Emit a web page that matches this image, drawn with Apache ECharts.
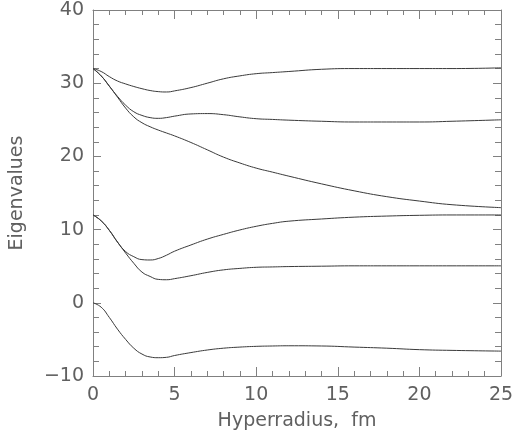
<!DOCTYPE html>
<html>
<head>
<meta charset="utf-8">
<script src="https://cdn.jsdelivr.net/npm/echarts@6/dist/echarts.min.js"></script>
<style>html,body{margin:0;padding:0;background:#fff;}#c{width:514px;height:438px;}</style>
</head>
<body>
<div id="c"></div>
<script>
const xs   = [0,0.5,1,1.5,2,2.5,3,3.5,4,4.5,5,6,7,8,9,10,11,12,14,16,18,20,22,25];
const eig1 = [32,31.6,30.9,30.3,29.9,29.55,29.25,29.0,28.85,28.8,28.95,29.4,30.0,30.6,31.0,31.3,31.45,31.6,31.9,32.0,32.0,32.0,32.0,32.1];
const eig2 = [32,31.0,29.6,28.2,27.0,26.1,25.6,25.3,25.2,25.3,25.5,25.8,25.85,25.7,25.4,25.15,25.05,24.95,24.8,24.7,24.7,24.7,24.8,25.0];
const eig3 = [32,31.0,29.6,28.1,26.6,25.4,24.6,24.05,23.6,23.2,22.8,21.9,20.9,19.9,19.1,18.4,17.85,17.3,16.25,15.3,14.5,13.9,13.4,13.0];
const eig4 = [12,11.2,9.9,8.3,7.0,6.3,5.9,5.85,6.05,6.5,7.05,7.9,8.7,9.35,9.95,10.45,10.85,11.15,11.45,11.7,11.85,11.95,12.0,12.0];
const eig5 = [12,11.2,9.9,8.3,6.8,5.4,4.2,3.6,3.2,3.15,3.3,3.7,4.15,4.5,4.7,4.85,4.9,4.95,5.0,5.05,5.05,5.05,5.05,5.05];
const eig6 = [0,-0.6,-2.0,-3.6,-5.0,-6.2,-7.0,-7.4,-7.5,-7.45,-7.2,-6.8,-6.45,-6.2,-6.05,-5.95,-5.9,-5.87,-5.9,-6.05,-6.2,-6.4,-6.5,-6.6];
const curves = [eig1, eig2, eig3, eig4, eig5, eig6];
const xMin = 0, xMax = 25, xStep = 5;
const yMin = -10, yMax = 40, yStep = 10;
const xTitle = 'Hyperradius,  fm';
const yTitle = 'Eigenvalues';

const textColor = '#606060';
const axisColor = '#808080';
const font = 'DejaVu Sans';
const fs = 19;

const chart = echarts.init(document.getElementById('c'), null, {renderer: 'canvas'});

function xAx(pos, show) {
  return {
    type: 'value', position: pos, min: xMin, max: xMax, interval: xStep,
    name: show ? xTitle : '', nameLocation: 'middle', nameGap: 36,
    nameTextStyle: {color: textColor, fontFamily: font, fontSize: fs},
    axisLine: {show: true, onZero: false, lineStyle: {color: axisColor, width: 1}},
    axisTick: {show: true, inside: true, length: 9, lineStyle: {color: axisColor}},
    minorTick: {show: true, splitNumber: 5, length: 5, lineStyle: {color: axisColor}},
    axisLabel: {show: show, margin: 10, color: textColor, fontFamily: font, fontSize: fs},
    splitLine: {show: false}
  };
}
function yAx(pos, show) {
  return {
    type: 'value', position: pos, min: yMin, max: yMax, interval: yStep,
    name: show ? yTitle : '', nameLocation: 'middle', nameGap: 66, nameRotate: 90,
    nameTextStyle: {color: textColor, fontFamily: font, fontSize: fs},
    axisLine: {show: true, onZero: false, lineStyle: {color: axisColor, width: 1}},
    axisTick: {show: true, inside: true, length: 8, lineStyle: {color: axisColor}},
    minorTick: {show: true, splitNumber: 5, length: 6, lineStyle: {color: axisColor}},
    axisLabel: {show: show, margin: 9, color: textColor, fontFamily: font, fontSize: fs,
      formatter: v => String(v).replace('-', '\u2212')},
    splitLine: {show: false}
  };
}

chart.setOption({
  animation: false,
  backgroundColor: '#fff',
  grid: {left: 93, right: 13, top: 10, bottom: 62, containLabel: false, outerBoundsMode: 'none'},
  xAxis: [xAx('bottom', true), xAx('top', false)],
  yAxis: [yAx('left', true), yAx('right', false)],
  series: curves.map(c => ({
    type: 'line', xAxisIndex: 0, yAxisIndex: 0,
    data: xs.map((x, i) => [x, c[i]]),
    showSymbol: false, smooth: 0.5,
    lineStyle: {color: '#3a3a3a', width: 1}
  }))
});
</script>
</body>
</html>
